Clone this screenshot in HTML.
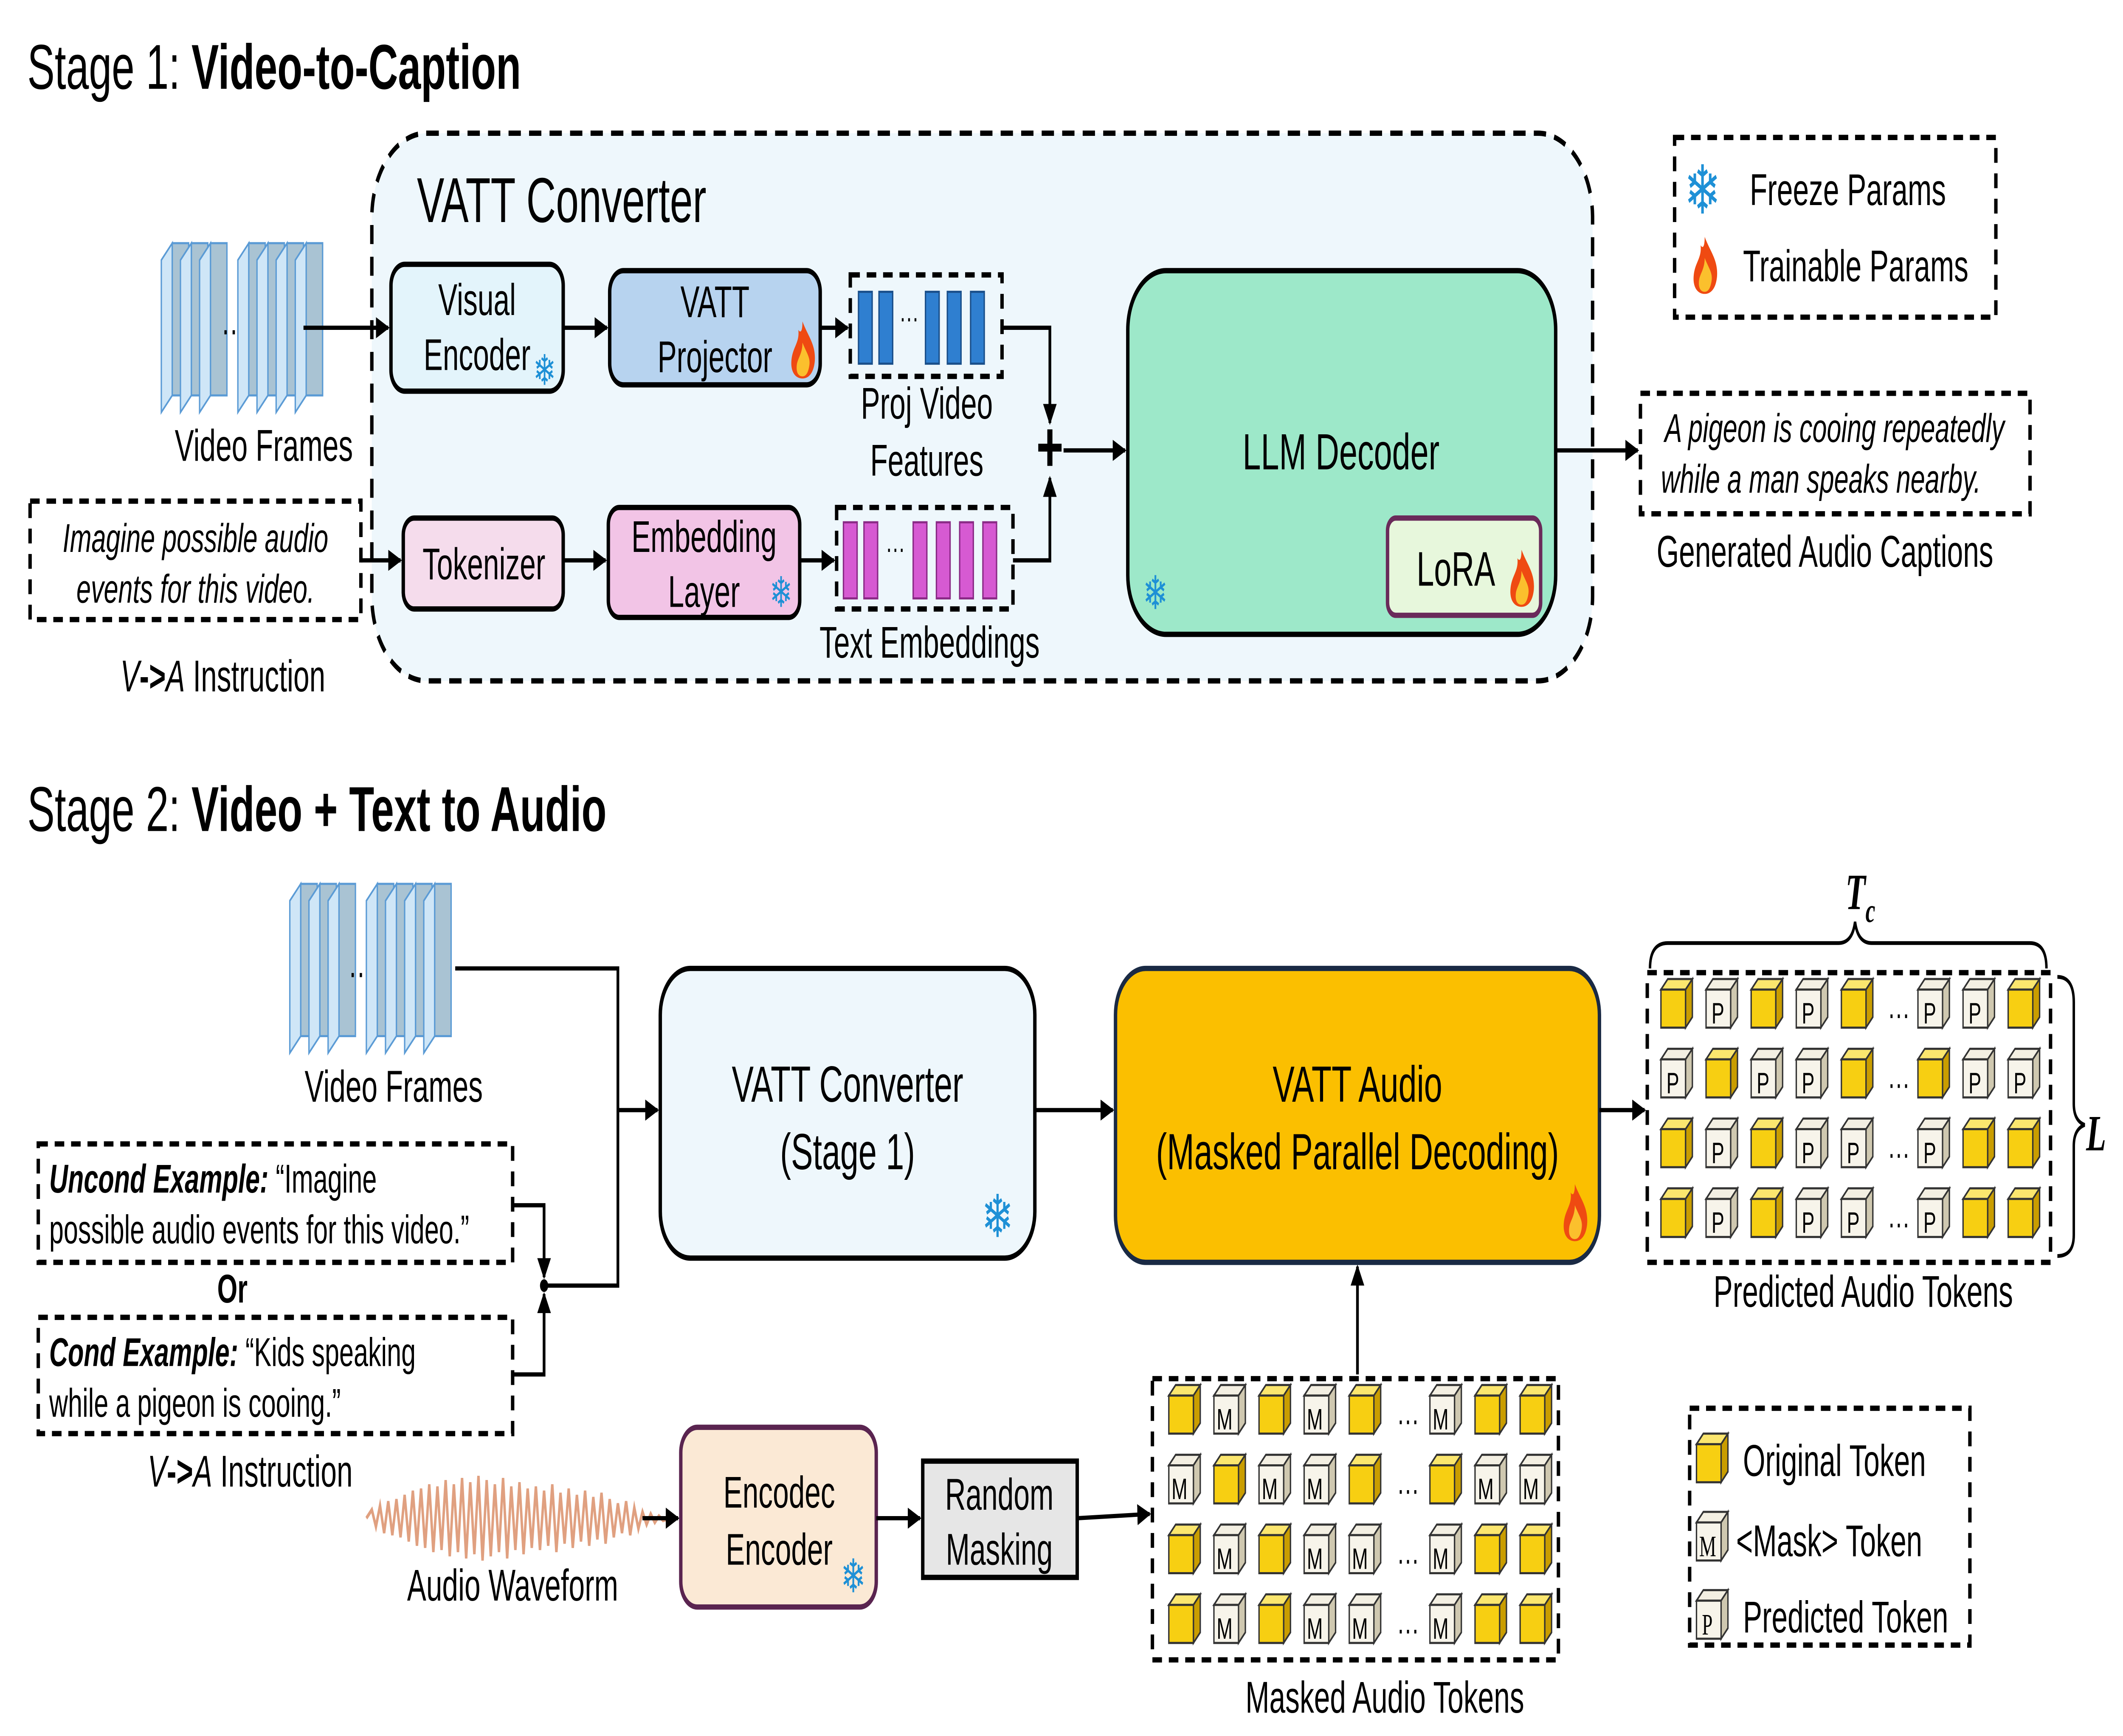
<!DOCTYPE html>
<html><head><meta charset="utf-8"><style>
html,body{margin:0;padding:0;background:#fff;width:100%;height:100%;overflow:hidden;}
svg{display:block;width:100vw;height:100vh;}
text{font-family:"Liberation Sans",sans-serif;fill:#000;}
</style></head><body>
<svg viewBox="0 0 1553 821" preserveAspectRatio="none" xmlns="http://www.w3.org/2000/svg">
<defs>
<marker id="a" markerWidth="10" markerHeight="10" refX="9" refY="5" orient="auto" markerUnits="userSpaceOnUse"><path d="M0,0 L10,5 L0,10 Z" fill="#000"/></marker>
<g id="cy"><polygon points="0,5 5,0 23,0 18,5" fill="#fbe66e" stroke="#333" stroke-width="1"/><polygon points="18,5 23,0 23,18 18,23" fill="#c99d00" stroke="#333" stroke-width="1"/><rect x="0" y="5" width="18" height="18" fill="#f7cf12" stroke="#333" stroke-width="1"/></g>
<g id="cg"><polygon points="0,5 5,0 23,0 18,5" fill="#f3efe2" stroke="#333" stroke-width="1"/><polygon points="18,5 23,0 23,18 18,23" fill="#cfc8b0" stroke="#333" stroke-width="1"/><rect x="0" y="5" width="18" height="18" fill="#f7f4ea" stroke="#333" stroke-width="1"/></g>
<g id="fire"><path d="M9 0 C13 7 19 11 18 19 C17 25 13 27 9 27 C4 27 0 24 1 18 C2 12 7 10 6 4 C8 6 9 4 9 0Z" fill="#ef4a12"/><path d="M9 10 C12 15 15 17 14 21 C13 25 11 26 9 26 C6 26 4 24 5 20 C6 17 9 15 9 10Z" fill="#fbc02d"/></g>
<g id="slab"><polygon points="0,8 8,0 8,72 0,80" fill="#cfe6f7" stroke="#5b9bd5" stroke-width="1"/><rect x="8" y="0" width="12" height="72" fill="#a9c3d3" stroke="#5b9bd5" stroke-width="1"/></g>
</defs>

<text x="20" y="42" font-size="30">Stage 1: <tspan font-weight="bold">Video-to-Caption</tspan></text>
<rect x="272" y="63" width="893" height="259" rx="40" fill="#eef7fc" stroke="#000" stroke-width="2.5" stroke-dasharray="9,6"/>
<text x="305" y="105" font-size="30">VATT Converter</text>

<use href="#slab" x="118" y="115"/><use href="#slab" x="132" y="115"/><use href="#slab" x="146" y="115"/>
<text x="162" y="162" font-size="18">···</text>
<use href="#slab" x="174" y="115"/><use href="#slab" x="188" y="115"/><use href="#slab" x="202" y="115"/><use href="#slab" x="216" y="115"/>
<text x="193" y="218" font-size="21" text-anchor="middle">Video Frames</text>

<rect x="286" y="125" width="126" height="60" rx="10" fill="#e3f4fb" stroke="#000" stroke-width="2.5"/>
<text x="349" y="149" font-size="21" text-anchor="middle">Visual</text><text x="349" y="175" font-size="21" text-anchor="middle">Encoder</text>
<text x="390" y="182" font-size="20" style="fill:#1e90d6">❄</text>

<rect x="446" y="128" width="154" height="54" rx="10" fill="#b7d3ef" stroke="#000" stroke-width="2.5"/>
<text x="523" y="150" font-size="21" text-anchor="middle">VATT</text><text x="523" y="176" font-size="21" text-anchor="middle">Projector</text>
<use href="#fire" x="578" y="152"/>

<rect x="622" y="130" width="111" height="48" fill="none" stroke="#000" stroke-width="2.5" stroke-dasharray="7,5"/>
<g fill="#2f7fd0" stroke="#1a4f8a" stroke-width="1">
<rect x="628" y="138" width="10" height="34"/><rect x="643" y="138" width="10" height="34"/>
<rect x="677" y="138" width="10" height="34"/><rect x="693" y="138" width="10" height="34"/><rect x="710" y="138" width="10" height="34"/></g>
<text x="658" y="155" font-size="14">···</text>
<text x="678" y="198" font-size="21" text-anchor="middle">Proj Video</text><text x="678" y="225" font-size="21" text-anchor="middle">Features</text>

<rect x="295" y="245" width="117" height="43" rx="8" fill="#f5dcec" stroke="#000" stroke-width="2.5"/>
<text x="354" y="274" font-size="21" text-anchor="middle">Tokenizer</text>
<rect x="445" y="240" width="140" height="52" rx="8" fill="#f2c4e6" stroke="#000" stroke-width="2.5"/>
<text x="515" y="261" font-size="21" text-anchor="middle">Embedding</text><text x="515" y="287" font-size="21" text-anchor="middle">Layer</text>
<text x="563" y="287" font-size="20" style="fill:#1e90d6">❄</text>

<rect x="612" y="240" width="129" height="48" fill="none" stroke="#000" stroke-width="2.5" stroke-dasharray="7,5"/>
<g fill="#d65ad2" stroke="#8a2a86" stroke-width="1">
<rect x="617" y="247" width="10" height="36"/><rect x="632" y="247" width="10" height="36"/>
<rect x="668" y="247" width="10" height="36"/><rect x="685" y="247" width="10" height="36"/><rect x="702" y="247" width="10" height="36"/><rect x="719" y="247" width="10" height="36"/></g>
<text x="648" y="264" font-size="14">···</text>
<text x="680" y="311" font-size="21" text-anchor="middle">Text Embeddings</text>

<rect x="825" y="128" width="313" height="172" rx="28" fill="#9de8c9" stroke="#000" stroke-width="2.5"/>
<text x="981" y="222" font-size="24" text-anchor="middle">LLM Decoder</text>
<rect x="1015" y="245" width="112" height="46" rx="6" fill="#e7f7dc" stroke="#6a2a5a" stroke-width="2.5"/>
<text x="1065" y="277" font-size="23" text-anchor="middle">LoRA</text>
<use href="#fire" x="1104" y="260"/>
<text x="836" y="288" font-size="22" style="fill:#1e90d6">❄</text>

<rect x="22" y="237" width="242" height="56" fill="#fff" stroke="#000" stroke-width="2.5" stroke-dasharray="7,5"/>
<text x="143" y="261" font-size="19" font-style="italic" text-anchor="middle">Imagine possible audio</text>
<text x="143" y="285" font-size="19" font-style="italic" text-anchor="middle">events for this video.</text>
<text x="163" y="327" font-size="21" text-anchor="middle"><tspan font-style="italic">V</tspan><tspan font-weight="bold">-&gt;</tspan><tspan font-style="italic">A</tspan> Instruction</text>

<rect x="1225" y="65" width="235" height="85" fill="#fff" stroke="#000" stroke-width="2.5" stroke-dasharray="7,5"/>
<text x="1232" y="101" font-size="32" style="fill:#1e90d6">❄</text>
<text x="1280" y="97" font-size="21">Freeze Params</text>
<use href="#fire" x="1238" y="112"/>
<text x="1275" y="133" font-size="21">Trainable Params</text>

<rect x="1200" y="186" width="285" height="57" fill="#fff" stroke="#000" stroke-width="2.5" stroke-dasharray="7,5"/>
<text x="1342" y="209" font-size="19" font-style="italic" text-anchor="middle">A pigeon is cooing repeatedly</text>
<text x="1332" y="233" font-size="19" font-style="italic" text-anchor="middle">while a man speaks nearby.</text>
<text x="1335" y="268" font-size="21" text-anchor="middle">Generated Audio Captions</text>

<g stroke="#000" stroke-width="2" fill="none">
<line x1="222" y1="155" x2="284" y2="155" marker-end="url(#a)"/>
<line x1="412" y1="155" x2="444" y2="155" marker-end="url(#a)"/>
<line x1="600" y1="155" x2="620" y2="155" marker-end="url(#a)"/>
<polyline points="733,155 768,155 768,200" marker-end="url(#a)"/>
<polyline points="741,265 768,265 768,226" marker-end="url(#a)"/>
<line x1="778" y1="213" x2="823" y2="213" marker-end="url(#a)"/>
<line x1="264" y1="265" x2="293" y2="265" marker-end="url(#a)"/>
<line x1="412" y1="265" x2="443" y2="265" marker-end="url(#a)"/>
<line x1="585" y1="265" x2="610" y2="265" marker-end="url(#a)"/>
<line x1="1138" y1="213" x2="1198" y2="213" marker-end="url(#a)"/>
</g>
<text x="768" y="223" font-size="34" font-weight="bold" text-anchor="middle">+</text>

<text x="20" y="393" font-size="30">Stage 2: <tspan font-weight="bold">Video + Text to Audio</tspan></text>
<use href="#slab" x="212" y="418"/><use href="#slab" x="226" y="418"/><use href="#slab" x="240" y="418"/>
<text x="255" y="466" font-size="18">···</text>
<use href="#slab" x="268" y="418"/><use href="#slab" x="282" y="418"/><use href="#slab" x="296" y="418"/><use href="#slab" x="310" y="418"/>
<text x="288" y="521" font-size="21" text-anchor="middle">Video Frames</text>

<rect x="483" y="458" width="274" height="137" rx="22" fill="#eef7fc" stroke="#000" stroke-width="2.5"/>
<text x="620" y="521" font-size="24" text-anchor="middle">VATT Converter</text>
<text x="620" y="553" font-size="24" text-anchor="middle">(Stage 1)</text>
<text x="718" y="585" font-size="28" style="fill:#1e90d6">❄</text>

<rect x="816" y="458" width="354" height="139" rx="22" fill="#fbbf00" stroke="#1a2a44" stroke-width="2.5"/>
<text x="993" y="521" font-size="24" text-anchor="middle">VATT Audio</text>
<text x="993" y="553" font-size="24" text-anchor="middle">(Masked Parallel Decoding)</text>
<use href="#fire" x="1143" y="560"/>

<rect x="28" y="541" width="347" height="56" fill="#fff" stroke="#000" stroke-width="2.5" stroke-dasharray="7,5"/>
<text x="36" y="564" font-size="19"><tspan font-weight="bold" font-style="italic">Uncond Example:</tspan> “Imagine</text>
<text x="36" y="588" font-size="19">possible audio events for this video.”</text>
<text x="170" y="616" font-size="19" font-weight="bold" text-anchor="middle">Or</text>
<rect x="28" y="623" width="347" height="55" fill="#fff" stroke="#000" stroke-width="2.5" stroke-dasharray="7,5"/>
<text x="36" y="646" font-size="19"><tspan font-weight="bold" font-style="italic">Cond Example:</tspan> “Kids speaking</text>
<text x="36" y="670" font-size="19">while a pigeon is cooing.”</text>
<text x="183" y="703" font-size="21" text-anchor="middle"><tspan font-style="italic">V</tspan><tspan font-weight="bold">-&gt;</tspan><tspan font-style="italic">A</tspan> Instruction</text>

<path d="M268 718 L272 714 L275 722 L278 712 L281 725 L284 710 L287 726 L290 709 L293 727 L296 707 L299 729 L302 705 L305 731 L308 704 L311 732 L314 702 L317 734 L320 703 L323 733 L326 700 L329 736 L332 702 L335 734 L338 699 L341 737 L344 701 L347 735 L350 698 L353 738 L356 700 L359 736 L362 702 L365 734 L368 699 L371 737 L374 703 L377 733 L380 701 L383 735 L386 704 L389 732 L392 703 L395 733 L398 705 L401 731 L404 702 L407 734 L410 706 L413 730 L416 704 L419 732 L422 707 L425 729 L428 705 L431 731 L434 708 L437 728 L440 706 L443 730 L446 709 L449 727 L452 711 L455 725 L458 710 L461 726 L464 713 L467 723 L470 715 L473 721 L476 716 L479 720 L482 717 L485 719 L490 718" fill="none" stroke="#e0a080" stroke-width="1.8"/>
<text x="375" y="757" font-size="21" text-anchor="middle">Audio Waveform</text>

<rect x="498" y="675" width="143" height="85" rx="12" fill="#fbe9d5" stroke="#5a2450" stroke-width="2.5"/>
<text x="570" y="713" font-size="21" text-anchor="middle">Encodec</text><text x="570" y="740" font-size="21" text-anchor="middle">Encoder</text>
<text x="615" y="753" font-size="22" style="fill:#1e90d6">❄</text>
<rect x="675" y="691" width="113" height="55" fill="#e6e6e6" stroke="#000" stroke-width="2.5"/>
<text x="731" y="714" font-size="21" text-anchor="middle">Random</text><text x="731" y="740" font-size="21" text-anchor="middle">Masking</text>

<g stroke="#000" stroke-width="2" fill="none">
<polyline points="333,458 452,458 452,525 481,525" marker-end="url(#a)"/>
<polyline points="398,608 452,608 452,525"/>
<polyline points="375,570 398,570 398,604" marker-end="url(#a)"/>
<polyline points="375,650 398,650 398,612" marker-end="url(#a)"/>
<line x1="757" y1="525" x2="814" y2="525" marker-end="url(#a)"/>
<line x1="1170" y1="525" x2="1203" y2="525" marker-end="url(#a)"/>
<line x1="993" y1="650" x2="993" y2="599" marker-end="url(#a)"/>
<line x1="470" y1="718" x2="496" y2="718" marker-end="url(#a)"/>
<line x1="641" y1="718" x2="673" y2="718" marker-end="url(#a)"/>
<line x1="788" y1="718" x2="841" y2="716" marker-end="url(#a)"/>
</g>
<circle cx="398" cy="608" r="3" fill="#000"/>

<rect x="1205" y="460" width="295" height="137" fill="none" stroke="#000" stroke-width="2.5" stroke-dasharray="7,5"/>
<path d="M1207 458 Q1207 446 1220 446 L1345 446 Q1355 446 1357 436 Q1359 446 1369 446 L1485 446 Q1497 446 1497 458" fill="none" stroke="#000" stroke-width="1.8"/>
<text x="1350" y="430" font-size="24" font-weight="bold" font-style="italic" style="font-family:'Liberation Serif',serif">T<tspan font-size="16" dy="6">c</tspan></text>
<path d="M1505 462 Q1517 462 1517 474 L1517 522 Q1517 530 1525 532 Q1517 534 1517 542 L1517 584 Q1517 594 1505 594" fill="none" stroke="#000" stroke-width="1.8"/>
<text x="1526" y="544" font-size="24" font-weight="bold" font-style="italic" style="font-family:'Liberation Serif',serif">L</text>
<text x="1363" y="618" font-size="21" text-anchor="middle">Predicted Audio Tokens</text>

<rect x="843" y="652" width="297" height="133" fill="none" stroke="#000" stroke-width="2.5" stroke-dasharray="7,5"/>
<text x="1013" y="810" font-size="21" text-anchor="middle">Masked  Audio Tokens</text>

<rect x="1236" y="666" width="205" height="112" fill="none" stroke="#000" stroke-width="2.5" stroke-dasharray="7,5"/>
<use href="#cy" x="1241" y="678"/>
<text x="1275" y="698" font-size="21">Original Token</text>
<use href="#cg" x="1241" y="715"/><text x="1243" y="736" font-size="14" style="font-family:'Liberation Serif',serif">M</text>
<text x="1270" y="736" font-size="21">&lt;Mask&gt; Token</text>
<use href="#cg" x="1241" y="752"/><text x="1245" y="773" font-size="14" style="font-family:'Liberation Serif',serif">P</text>
<text x="1275" y="772" font-size="21">Predicted Token</text>

<g>
<use href="#cy" x="1215" y="463"/><use href="#cg" x="1248" y="463"/><use href="#cy" x="1281" y="463"/><use href="#cg" x="1314" y="463"/><use href="#cy" x="1347" y="463"/><use href="#cg" x="1403" y="463"/><use href="#cg" x="1436" y="463"/><use href="#cy" x="1469" y="463"/>
<use href="#cg" x="1215" y="496"/><use href="#cy" x="1248" y="496"/><use href="#cg" x="1281" y="496"/><use href="#cg" x="1314" y="496"/><use href="#cy" x="1347" y="496"/><use href="#cy" x="1403" y="496"/><use href="#cg" x="1436" y="496"/><use href="#cg" x="1469" y="496"/>
<use href="#cy" x="1215" y="529"/><use href="#cg" x="1248" y="529"/><use href="#cy" x="1281" y="529"/><use href="#cg" x="1314" y="529"/><use href="#cg" x="1347" y="529"/><use href="#cg" x="1403" y="529"/><use href="#cy" x="1436" y="529"/><use href="#cy" x="1469" y="529"/>
<use href="#cy" x="1215" y="562"/><use href="#cg" x="1248" y="562"/><use href="#cy" x="1281" y="562"/><use href="#cg" x="1314" y="562"/><use href="#cg" x="1347" y="562"/><use href="#cg" x="1403" y="562"/><use href="#cy" x="1436" y="562"/><use href="#cy" x="1469" y="562"/>
</g>
<g font-size="14" style="font-family:'Liberation Serif',serif">
<text x="1252" y="484">P</text><text x="1318" y="484">P</text><text x="1407" y="484">P</text><text x="1440" y="484">P</text>
<text x="1219" y="517">P</text><text x="1285" y="517">P</text><text x="1318" y="517">P</text><text x="1440" y="517">P</text><text x="1473" y="517">P</text>
<text x="1252" y="550">P</text><text x="1318" y="550">P</text><text x="1351" y="550">P</text><text x="1407" y="550">P</text>
<text x="1252" y="583">P</text><text x="1318" y="583">P</text><text x="1351" y="583">P</text><text x="1407" y="583">P</text>
</g>
<g font-size="16"><text x="1381" y="485">···</text><text x="1381" y="518">···</text><text x="1381" y="551">···</text><text x="1381" y="584">···</text></g>

<g>
<use href="#cy" x="855" y="655"/><use href="#cg" x="888" y="655"/><use href="#cy" x="921" y="655"/><use href="#cg" x="954" y="655"/><use href="#cy" x="987" y="655"/><use href="#cg" x="1046" y="655"/><use href="#cy" x="1079" y="655"/><use href="#cy" x="1112" y="655"/>
<use href="#cg" x="855" y="688"/><use href="#cy" x="888" y="688"/><use href="#cg" x="921" y="688"/><use href="#cg" x="954" y="688"/><use href="#cy" x="987" y="688"/><use href="#cy" x="1046" y="688"/><use href="#cg" x="1079" y="688"/><use href="#cg" x="1112" y="688"/>
<use href="#cy" x="855" y="721"/><use href="#cg" x="888" y="721"/><use href="#cy" x="921" y="721"/><use href="#cg" x="954" y="721"/><use href="#cg" x="987" y="721"/><use href="#cg" x="1046" y="721"/><use href="#cy" x="1079" y="721"/><use href="#cy" x="1112" y="721"/>
<use href="#cy" x="855" y="754"/><use href="#cg" x="888" y="754"/><use href="#cy" x="921" y="754"/><use href="#cg" x="954" y="754"/><use href="#cg" x="987" y="754"/><use href="#cg" x="1046" y="754"/><use href="#cy" x="1079" y="754"/><use href="#cy" x="1112" y="754"/>
</g>
<g font-size="14" style="font-family:'Liberation Serif',serif">
<text x="890" y="676">M</text><text x="956" y="676">M</text><text x="1048" y="676">M</text>
<text x="857" y="709">M</text><text x="923" y="709">M</text><text x="956" y="709">M</text><text x="1081" y="709">M</text><text x="1114" y="709">M</text>
<text x="890" y="742">M</text><text x="956" y="742">M</text><text x="989" y="742">M</text><text x="1048" y="742">M</text>
<text x="890" y="775">M</text><text x="956" y="775">M</text><text x="989" y="775">M</text><text x="1048" y="775">M</text>
</g>
<g font-size="16"><text x="1022" y="677">···</text><text x="1022" y="710">···</text><text x="1022" y="743">···</text><text x="1022" y="776">···</text></g>
</svg>
</body></html>
